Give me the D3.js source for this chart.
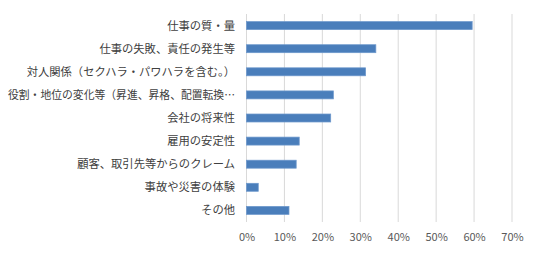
<!DOCTYPE html>
<html><head><meta charset="utf-8">
<script src="https://cdn.jsdelivr.net/npm/d3@7"></script>
<style>
html,body{margin:0;padding:0;background:#fff;}
svg{display:block;}
text{font-family:"Noto Sans CJK JP","Noto Sans CJK SC",sans-serif;}
</style></head>
<body>
<svg id="chart" width="536" height="253"></svg>
<script>
const categories = [
  "仕事の質・量",
  "仕事の失敗、責任の発生等",
  "対人関係（セクハラ・パワハラを含む。）",
  "役割・地位の変化等（昇進、昇格、配置転換…",
  "会社の将来性",
  "雇用の安定性",
  "顧客、取引先等からのクレーム",
  "事故や災害の体験",
  "その他"
];
const values = [59.5, 34.1, 31.4, 22.9, 22.2, 13.9, 13.1, 3.1, 11.2];
const tickValues = [0, 10, 20, 30, 40, 50, 60, 70];
const tickLabels = ["0%", "10%", "20%", "30%", "40%", "50%", "60%", "70%"];

const svg = d3.select("#chart");
const plotLeft = 246, plotRight = 511.5, plotTop = 14, plotBottom = 222;

const x = d3.scaleLinear().domain([0, 70]).range([plotLeft, plotRight]);
const y = d3.scaleBand().domain(categories).range([plotTop, plotBottom]).paddingInner(0.655).paddingOuter(0.33);

// gridlines
svg.append("g").selectAll("line").data(tickValues).join("line")
  .attr("x1", d => x(d) + 0.5).attr("x2", d => x(d) + 0.5)
  .attr("y1", plotTop).attr("y2", plotBottom)
  .attr("stroke", "#d9d9d9").attr("stroke-width", 1);

// bars
svg.append("g").selectAll("rect").data(values).join("rect")
  .attr("x", x(0) + 0.5)
  .attr("y", (d, i) => y(categories[i]))
  .attr("width", d => x(d) - x(0))
  .attr("height", y.bandwidth())
  .attr("fill", "#4a7ebb")
  .attr("stroke", "#6d98cc")
  .attr("stroke-width", 0.75);

// category labels
const labelRight = 235, maxLabelWidth = 227;
svg.append("g").selectAll("text").data(categories).join("text")
  .attr("x", labelRight)
  .attr("y", d => y(d) + y.bandwidth() / 2)
  .attr("dy", "0.35em")
  .attr("text-anchor", "end")
  .attr("font-size", "11.3px")
  .attr("fill", "#404040")
  .text(d => d)
  .each(function() {
    const w = this.getComputedTextLength();
    if (w > maxLabelWidth) {
      d3.select(this).attr("textLength", maxLabelWidth).attr("lengthAdjust", "spacingAndGlyphs");
    }
  });

// x tick labels
const xAxis = d3.axisBottom(x).tickValues(tickValues).tickFormat((d, i) => tickLabels[i]).tickSize(0).tickPadding(0);
const ax = svg.append("g").attr("transform", `translate(0.5,${237})`).call(xAxis);
ax.select(".domain").remove();
ax.selectAll("text")
  .attr("y", 0).attr("dy", "0.35em")
  .attr("font-size", "11px")
  .attr("fill", "#595959")
  .style("font-family", "'Noto Sans CJK JP', sans-serif");
</script>
</body></html>
